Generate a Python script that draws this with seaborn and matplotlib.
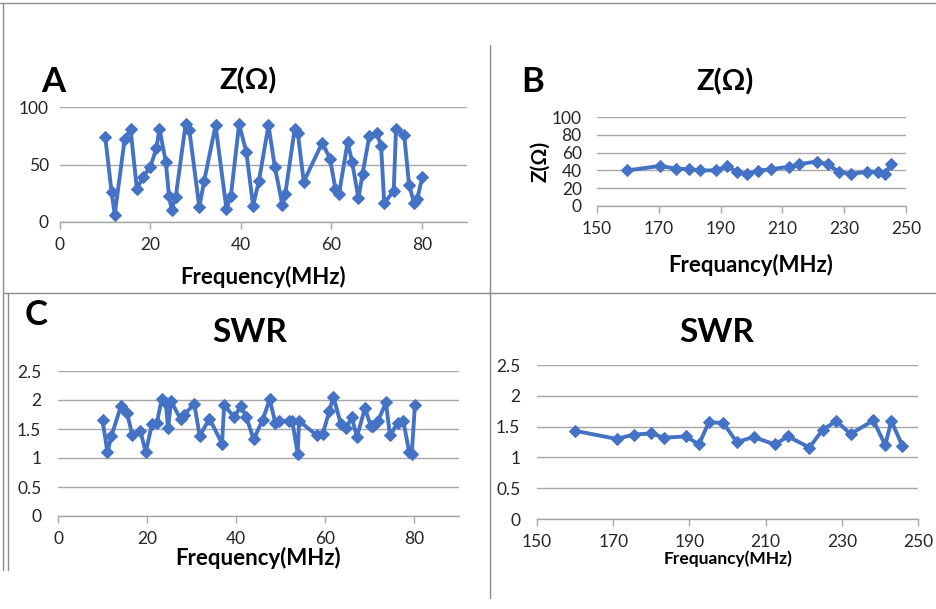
import matplotlib
matplotlib.use("Agg")
import matplotlib.pyplot as plt
from matplotlib.lines import Line2D
import seaborn as sns

# panel A: impedance, low band
freq_a = [10.0, 11.4, 12.1, 14.3, 15.6, 17.0, 18.3, 20.0, 21.3, 22.0, 23.4, 24.1, 24.7,
          25.6, 27.8, 28.6, 30.8, 31.9, 34.4, 36.8, 37.8, 39.6, 41.2, 42.7, 44.0, 46.1,
          47.5, 49.2, 49.8, 51.9, 52.6, 53.9, 58.0, 59.7, 60.9, 61.7, 63.6, 64.6, 66.0,
          66.9, 68.4, 70.1, 71.0, 71.7, 73.8, 74.3, 76.1, 77.2, 78.3, 79.0, 80.1]
z_a = [74, 26, 6.5, 72, 81, 28.5, 39, 48, 64, 81, 52, 23, 10.5,
       22, 85.5, 80, 13, 36, 84, 11.5, 23, 85, 61, 14, 36, 84,
       48, 14.5, 24, 81, 77, 35, 69, 55, 29, 24.5, 69.5, 52, 20.5,
       42, 74.5, 77, 66, 16.5, 27, 81, 76, 32, 16.5, 20, 39]

# panel B: impedance, high band
freq_b = [159.7, 170.5, 175.6, 179.7, 183.4, 188.6, 192.2, 195.3, 198.5, 202.0, 206.4,
          212.2, 215.5, 221.1, 224.7, 228.4, 232.2, 237.5, 241.1, 243.1, 245.2]
z_b = [40, 45, 42, 41.5, 40, 40, 45, 38, 35.5, 39.5, 41.5,
       44, 47, 50, 47, 38, 36, 38.5, 38.5, 36, 47]

# panel C: SWR, low band
freq_c = [10.0, 11.1, 12.0, 14.1, 15.5, 16.7, 18.5, 19.7, 21.1, 22.2, 23.3, 24.2, 24.7,
          25.4, 27.5, 28.3, 30.6, 31.8, 34.0, 36.8, 37.3, 39.6, 41.0, 42.3, 43.9, 45.9,
          47.5, 48.8, 49.6, 51.9, 52.6, 53.8, 54.1, 58.1, 59.4, 60.9, 61.8, 63.5, 64.7,
          65.9, 67.1, 68.9, 70.2, 70.8, 71.8, 73.6, 74.5, 76.3, 77.5, 78.8, 79.4, 80.1]
swr_c = [1.65, 1.10, 1.38, 1.89, 1.77, 1.39, 1.46, 1.10, 1.59, 1.61, 2.02, 1.94, 1.52,
         1.98, 1.67, 1.75, 1.93, 1.38, 1.68, 1.25, 1.91, 1.70, 1.90, 1.70, 1.32, 1.65,
         2.01, 1.60, 1.64, 1.64, 1.63, 1.07, 1.64, 1.39, 1.41, 1.81, 2.06, 1.58, 1.52,
         1.70, 1.37, 1.86, 1.55, 1.55, 1.63, 1.96, 1.39, 1.61, 1.64, 1.11, 1.07, 1.91]

# panel D: SWR, high band
freq_d = [160.1, 170.9, 175.4, 180.0, 183.4, 189.1, 192.5, 195.1, 198.9, 202.4, 206.9,
          212.4, 215.9, 221.5, 225.0, 228.6, 232.3, 238.3, 241.4, 243.0, 245.9]
swr_d = [1.43, 1.30, 1.37, 1.39, 1.32, 1.34, 1.21, 1.57, 1.56, 1.25, 1.33,
         1.21, 1.34, 1.16, 1.45, 1.59, 1.38, 1.60, 1.20, 1.59, 1.19]

BLUE = "#4472C4"
GRID = "#A6A6A6"
INK = "#262626"

sns.set_style("white")
plt.rcParams["font.family"] = ["Lato", "DejaVu Sans"]

W, H = 936, 609
fig = plt.figure(figsize=(W / 100, H / 100), dpi=100)


def px_axes(left, top, right, bottom):
    return fig.add_axes([left / W, 1 - bottom / H, (right - left) / W, (bottom - top) / H])


def style(ax, xlim, xticks, ylim, yticks, fs=12.5, ypad=9):
    ax.set_xlim(*xlim)
    ax.set_ylim(*ylim)
    ax.set_xticks(xticks)
    ax.set_yticks(yticks)
    ax.set_yticklabels([f"{t:g}" for t in yticks])
    for s in ["top", "right", "left"]:
        ax.spines[s].set_visible(False)
    ax.spines["bottom"].set_color(GRID)
    ax.spines["bottom"].set_linewidth(1)
    ax.grid(axis="y", color=GRID, linewidth=1)
    ax.set_axisbelow(True)
    ax.tick_params(axis="x", length=5, width=1, color=GRID, direction="out",
                   labelsize=fs, labelcolor=INK, pad=6, bottom=True)
    ax.tick_params(axis="y", length=0, labelsize=fs, labelcolor=INK, pad=ypad, left=False)
    ax.set_xlabel("")
    ax.set_ylabel("")


def draw(ax, x, y):
    sns.lineplot(x=x, y=y, ax=ax, sort=False, estimator=None, color=BLUE,
                 linewidth=2.8, marker="D", markersize=6, markeredgecolor=BLUE)


# A
ax_a = px_axes(60, 107, 467, 222)
draw(ax_a, freq_a, z_a)
style(ax_a, (0, 90), [0, 20, 40, 60, 80], (0, 100), [0, 50, 100], ypad=8)

# B
ax_b = px_axes(597, 117, 906, 206)
draw(ax_b, freq_b, z_b)
style(ax_b, (150, 250), [150, 170, 190, 210, 230, 250], (0, 100),
      [0, 20, 40, 60, 80, 100], ypad=11)

# C
ax_c = px_axes(58, 371, 459, 516)
draw(ax_c, freq_c, swr_c)
style(ax_c, (0, 90), [0, 20, 40, 60, 80], (0, 2.5), [0, 0.5, 1, 1.5, 2, 2.5], ypad=12)

# D
ax_d = px_axes(537, 365, 918, 519)
draw(ax_d, freq_d, swr_d)
style(ax_d, (150, 250), [150, 170, 190, 210, 230, 250], (0, 2.5),
      [0, 0.5, 1, 1.5, 2, 2.5], ypad=12)


def ftext(x, y, s, size, **kw):
    fig.text(x / W, 1 - y / H, s, fontsize=size, fontweight="bold", color="black",
             ha=kw.pop("ha", "center"), va=kw.pop("va", "center"), **kw)


# titles, panel letters and axis labels
ftext(248, 81, "Z(Ω)", 21)
ftext(53, 82, "A", 25)
ftext(263, 277, "Frequency(MHz)", 16)

ftext(725, 82, "Z(Ω)", 21)
ftext(533, 82, "B", 25)
ftext(540, 161, "Z(Ω)", 15, rotation=90)
ftext(751, 265, "Frequancy(MHz)", 16)

ftext(250, 333, "SWR", 24)
ftext(36, 315, "C", 25)
ftext(258, 558, "Frequency(MHz)", 16)

ftext(717, 333, "SWR", 24)
ftext(728, 559, "Frequancy(MHz)", 12.5)

# frame lines of the composite figure
FRAME = "#8C8C8C"
for (x0, y0, x1, y1) in [(0, 3, W, 3), (3, 3, 3, 570), (8, 293, 8, 570),
                         (3, 293, W, 293), (490, 45, 490, 598)]:
    fig.add_artist(Line2D([x0 / W, x1 / W], [1 - y0 / H, 1 - y1 / H],
                          transform=fig.transFigure, color=FRAME, linewidth=1))

fig.savefig("out.png", dpi=100)
